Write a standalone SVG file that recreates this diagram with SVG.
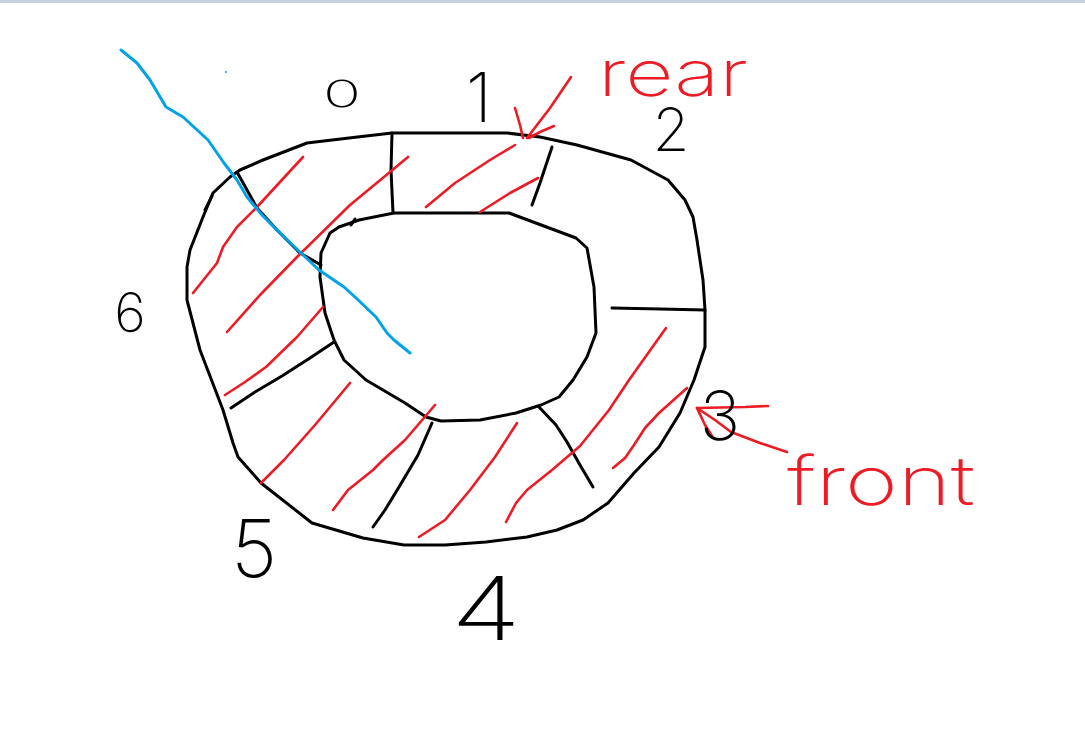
<svg xmlns="http://www.w3.org/2000/svg" width="1085" height="738" viewBox="0 0 1085 738">
<style>
.k{fill:none;stroke:#000;stroke-width:3;stroke-linecap:round;stroke-linejoin:round}
.r{fill:none;stroke:#ed1c24;stroke-width:2.6;stroke-linecap:round;stroke-linejoin:round}
.b{fill:none;stroke:#00a2e8;stroke-width:3;stroke-linecap:round;stroke-linejoin:round}
.d{font-family:Inter,"Liberation Sans",sans-serif;font-weight:200;fill:#000;text-anchor:middle}
.t{font-family:Inter,"Liberation Sans",sans-serif;font-weight:200;fill:#ed1c24}
</style>
<rect x="0" y="0" width="1085" height="738" fill="#fff"/>
<rect x="0" y="0" width="1085" height="3" fill="#c5cfe0"/>
<g id="ring">
<path class="k" d="M240,170 L263,160 L307,143 L349,138 L392,133 L507,133 L540,137 L577,145 L631,160 L668,180 L685,200 L693,217 L697,240 L703,280 L705,310 L705,347 L694,380 L680,413 L659,447 L634,473 L608,503 L583,520 L557,530 L527,537 L486,542 L445,545 L404,545 L363,538 L312,523 L261,483 L238,457 L233,443 L223,410 L200,350 L187,300 L187,267 L190,250 L203,217 L213,193 L230,177 Z"/>
<path class="k" d="M205,210 L212,196"/>
<path class="k" d="M394,213 L509,213 L576,238 L587,248 L594,287 L596,333 L587,357 L573,380 L559,397 L541,405 L516,413 L480,420 L441,421 L426,417 L405,403 L366,380 L344,360 L334,340 L325,313 L320,277 L321,253 L330,233 L339,227 L359,220 Z"/>
<path class="k" d="M351,225 L355,219"/>
</g>
<g id="dividers">
<path class="k" d="M392,133 L391,170 L393,213"/>
<path class="k" d="M237,172 L257,208 L277,230 L300,253 L321,265"/>
<path class="k" d="M552,147 L546,165 L540,183 L532,205"/>
<path class="k" d="M612,308 L660,309 L705,310"/>
<path class="k" d="M539,407 L556,425 L567,442 L580,465 L593,487"/>
<path class="k" d="M432,423 L418,455 L399,487 L385,510 L373,527"/>
<path class="k" d="M334,342 L310,358 L282,376 L255,392 L231,408"/>
</g>
<g id="hatch">
<path class="r" d="M303,157 L257,207 L237,227 L223,247 L217,263 L193,293"/>
<path class="r" d="M408,157 L390,172 L350,205 L297,257 L260,295 L227,332"/>
<path class="r" d="M323,307 L297,337 L266,367 L245,382 L225,395"/>
<path class="r" d="M515,145 L490,160 L455,183 L426,207"/>
<path class="r" d="M538,178 L510,193 L480,212"/>
<path class="r" d="M666,328 L629,380 L609,410 L580,446 L552,470 L527,490 L516,503 L506,522"/>
<path class="r" d="M687,388 L659,413 L645,428 L634,445 L625,458 L613,468"/>
<path class="r" d="M435,405 L405,440 L383,460 L373,470 L348,490 L333,510"/>
<path class="r" d="M517,423 L495,457 L470,490 L445,520 L419,537"/>
<path class="r" d="M350,383 L315,425 L284,460 L261,483"/>
</g>
<g id="blue-line">
<path class="b" d="M121,50 L137,63 L150,80 L166,107 L183,117 L208,140 L224,163 L237,180 L247,197 L262,215 L277,230 L301,253 L319,270 L344,287 L355,297 L376,317 L387,333 L394,340 L410,353"/>
<circle cx="226" cy="72" r="1" fill="#00a2e8"/>
</g>
<g id="arrows">
<path class="r" d="M571,77 L550,108 L527,138"/>
<path class="r" d="M515,108 L520,125 L523,138"/>
<path class="r" d="M529,138 L540,132 L554,126"/>
<path class="r" d="M768,406 L745,407 L697,408"/>
<path class="r" d="M697,408 L715,420 L731,432 L760,443 L787,452"/>
<path class="r" d="M697,408 L705,425 L712,436"/>
</g>
<g id="labels">
<text class="d" transform="translate(342,107) scale(1.7,1)" x="0" y="0" font-size="37">0</text>
<text class="d" x="479" y="122" font-size="68">1</text>
<text class="d" x="671" y="151" font-size="60">2</text>
<text class="d" x="720" y="440" font-size="68">3</text>
<text class="d" transform="translate(486,640) scale(1.3,1)" x="0" y="0" font-size="88">4</text>
<text class="d" x="254" y="577" font-size="80">5</text>
<text class="d" x="130" y="332" font-size="54">6</text>
<text class="t" x="598" y="96" font-size="64" textLength="150" lengthAdjust="spacingAndGlyphs">rear</text>
<text class="t" x="787" y="505" font-size="68" textLength="188" lengthAdjust="spacingAndGlyphs">front</text>
</g>
</svg>
